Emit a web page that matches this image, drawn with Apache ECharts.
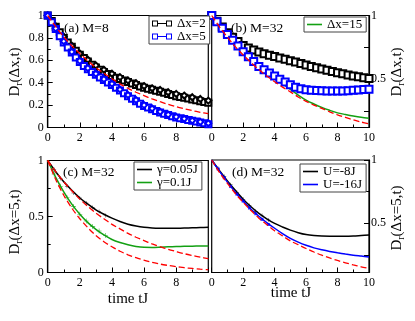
<!DOCTYPE html>
<html><head><meta charset="utf-8">
<script src="https://cdn.jsdelivr.net/npm/echarts@6/dist/echarts.min.js"></script>
<style>html,body{margin:0;padding:0;background:#fff}#c{width:415px;height:321px}</style>
</head><body><div id="c"></div>
<script>
// ---- time grids ----
const tQ = [0,0.25,0.5,0.75,1,1.25,1.5,1.75,2,2.25,2.5,2.75,3,3.25,3.5,3.75,4,4.25,4.5,4.75,5,5.25,5.5,5.75,6,6.25,6.5,6.75,7,7.25,7.5,7.75,8,8.25,8.5,8.75,9,9.25,9.5,9.75,10];
const tH = [0,0.5,1,1.5,2,2.5,3,3.5,4,4.5,5,5.5,6,6.5,7,7.5,8,8.5,9,9.5,10];
const tT = [0,0.33,0.67,1,1.33,1.67,2,2.33,2.67,3,3.33,3.67,4,4.33,4.67,5,5.33,5.67,6,6.33,6.67,7,7.33,7.67,8,8.33,8.67,9,9.33,9.67,10];
// ---- x tick labels ----
const xTicks = [0,2,4,6,8,10];
// ---- panel (a) M=8 ----
const aBlackSq = [1.0,0.95,0.90,0.85,0.80,0.76,0.72,0.685,0.65,0.62,0.59,0.56,0.535,0.515,0.495,0.477,0.46,0.445,0.432,0.419,0.406,0.393,0.38,0.367,0.355,0.346,0.337,0.328,0.32,0.31,0.30,0.29,0.28,0.272,0.265,0.258,0.25,0.243,0.235,0.228,0.22];
const aBlueSq = [1.0,0.94,0.88,0.815,0.76,0.715,0.67,0.625,0.585,0.55,0.52,0.495,0.47,0.447,0.424,0.402,0.38,0.355,0.33,0.305,0.28,0.257,0.235,0.213,0.192,0.178,0.164,0.148,0.133,0.122,0.111,0.10,0.09,0.082,0.075,0.068,0.06,0.053,0.045,0.038,0.03];
const aBlackAlt = [1,0.905,0.81,0.73,0.66,0.605,0.555,0.515,0.48,0.45,0.42,0.395,0.37,0.35,0.335,0.315,0.30,0.285,0.27,0.255,0.24];
const aBlueAlt = [1,0.885,0.77,0.675,0.595,0.53,0.48,0.432,0.39,0.34,0.29,0.245,0.20,0.17,0.14,0.115,0.095,0.078,0.063,0.05,0.038];
const aRed = [1,0.90,0.81,0.73,0.66,0.595,0.535,0.485,0.435,0.39,0.35,0.315,0.285,0.255,0.23,0.207,0.186,0.168,0.151,0.136,0.123];
// ---- panel (b) M=32 ----
const bBlack = [1.0,0.955,0.91,0.865,0.83,0.795,0.765,0.745,0.728,0.713,0.70,0.688,0.677,0.667,0.656,0.645,0.634,0.622,0.611,0.60,0.59,0.58,0.57,0.56,0.55,0.542,0.533,0.525,0.518,0.511,0.505];
const bBlue = [1.0,0.95,0.90,0.85,0.805,0.76,0.715,0.675,0.638,0.60,0.573,0.548,0.525,0.50,0.477,0.455,0.437,0.425,0.417,0.412,0.41,0.408,0.407,0.406,0.406,0.407,0.409,0.412,0.415,0.418,0.42];
const bGreen = [1,0.925,0.855,0.79,0.73,0.67,0.61,0.558,0.513,0.465,0.42,0.375,0.335,0.305,0.278,0.255,0.235,0.222,0.21,0.20,0.193];
const bRed = [1,0.91,0.83,0.755,0.69,0.63,0.575,0.525,0.48,0.437,0.40,0.36,0.325,0.296,0.27,0.243,0.22,0.20,0.18,0.163,0.148];
// ---- panel (c) M=32, gamma ----
const cBlack = [1,0.90,0.81,0.735,0.665,0.61,0.56,0.52,0.485,0.455,0.431,0.415,0.404,0.398,0.395,0.394,0.395,0.397,0.399,0.401,0.403];
const cGreen = [1,0.85,0.72,0.61,0.52,0.445,0.385,0.335,0.295,0.268,0.248,0.233,0.225,0.224,0.226,0.229,0.232,0.234,0.235,0.236,0.237];
const cRed1 = [1,0.90,0.81,0.73,0.655,0.59,0.53,0.48,0.43,0.39,0.35,0.315,0.285,0.255,0.23,0.207,0.187,0.168,0.152,0.137,0.123];
const cRed2 = [1,0.83,0.69,0.575,0.48,0.40,0.33,0.275,0.23,0.19,0.158,0.132,0.11,0.09,0.075,0.063,0.052,0.043,0.036,0.03,0.025];
// early-time check points in (c) and (d)
const tEarly = [0.4,0.8,1.2,1.6,2.0,2.4,2.8,3.2,3.6];
const cGreenPts = [0.88,0.77,0.67,0.59,0.52,0.46,0.41,0.37,0.33];
const cBlackPts = [0.92,0.84,0.77,0.71,0.665,0.62,0.58,0.545,0.51];
const dBlackPts = [0.935,0.87,0.805,0.745,0.69,0.64,0.595,0.56,0.525];
const dBluePts = [0.93,0.86,0.79,0.73,0.675,0.62,0.575,0.53,0.49];
// ---- panel (d) M=32, U ----
const dBlack = [1,0.915,0.835,0.76,0.69,0.63,0.578,0.535,0.498,0.47,0.445,0.425,0.41,0.402,0.398,0.397,0.397,0.396,0.398,0.402,0.406];
const dBlue = [1,0.91,0.825,0.745,0.675,0.61,0.555,0.505,0.46,0.418,0.38,0.35,0.325,0.305,0.29,0.277,0.266,0.256,0.247,0.24,0.233];
const dRed = [1,0.9,0.815,0.735,0.665,0.6,0.54,0.49,0.44,0.40,0.36,0.33,0.30,0.272,0.247,0.225,0.205,0.187,0.17,0.155,0.142];
// ---- y tick labels ----
const yTicksRight = [0.5,1];
const yMinorRight = [0.25,0.5,0.75,1];

const F = 'Liberation Serif';
const BLUE = '#0000ff', GREEN = '#13a013', RED = '#ff0000';
const pair = (t, v) => t.map((x, i) => [x, v[i]]);
const PLUS = 'path://M0,4.4H10V5.6H0Z M4.4,0H5.6V10H4.4Z';
const SQSQ = 'path://M0,0H6V6H0Z M1,1V5H5V1Z M6,2.4H14V3.6H6Z M14,0H20V6H14Z M15,1V5H19V1Z';

function xAx(gi, hide10) {
  return {type:'value', gridIndex:gi, min:xTicks[0], max:xTicks[xTicks.length-1], interval:2,
    axisLine:{show:true,onZero:false,lineStyle:{color:'#000',width:1.2}},
    axisTick:{inside:true,length:5,lineStyle:{color:'#000',width:1}},
    minorTick:{show:true,splitNumber:2,length:3,lineStyle:{color:'#000',width:1}},
    splitLine:{show:false},
    axisLabel:{margin:4,color:'#000',fontFamily:F,fontSize:12,
      formatter: v => (hide10 && v === 10) ? '' : String(v)}};
}
function yLeft(gi, interval) {
  return {type:'value', gridIndex:gi, min:0, max:1, interval:interval,
    axisLine:{show:true,onZero:false,lineStyle:{color:'#000',width:1.2}},
    axisTick:{inside:true,length:5,lineStyle:{color:'#000',width:1}},
    minorTick:{show:true,splitNumber:2,length:3,lineStyle:{color:'#000',width:1}},
    splitLine:{show:false},
    axisLabel:{margin:4,color:'#000',fontFamily:F,fontSize:12}};
}
function yRight(gi, min) {
  return {type:'value', gridIndex:gi, position:'right', min:min, max:1,
    axisLine:{show:true,onZero:false,lineStyle:{color:'#000',width:1.2}},
    axisTick:{inside:true,length:5,customValues:yMinorRight,lineStyle:{color:'#000',width:1}},
    splitLine:{show:false},
    axisLabel:{margin:2,color:'#000',fontFamily:F,fontSize:12,customValues:yTicksRight}};
}
function ln(name, xi, data, color) {
  return {type:'line', name:name, xAxisIndex:xi, yAxisIndex:xi, data:data,
    showSymbol:false, symbol:'none', smooth:0.3,
    lineStyle:{color:color,width:1.5}, itemStyle:{color:color}, animation:false, z:3};
}
function mk(name, xi, data, color, sym, size, lw) {
  return {type:'line', name:name, xAxisIndex:xi, yAxisIndex:xi, data:data,
    symbol:sym, symbolSize:size, showSymbol:true,
    lineStyle:{color:color,width:lw}, itemStyle:{color:color,borderColor:color,borderWidth:1.1},
    animation:false, z:3};
}
function pts(xi, data, color, sym, size) {
  return {type:'scatter', xAxisIndex:xi, yAxisIndex:xi, data:data, symbol:sym, symbolSize:size,
    itemStyle:{color:color}, animation:false, z:4};
}
function dash(xi, data) {
  return {type:'line', xAxisIndex:xi, yAxisIndex:xi, data:data, symbol:'none', smooth:0.3,
    lineStyle:{color:RED,width:1.3,type:[6,3]}, animation:false, z:5};
}
const legBase = {orient:'vertical', itemWidth:15, itemHeight:1.6, itemGap:0, padding:[1,4,1,3],
  borderColor:'#444', borderWidth:1, backgroundColor:'#fff', selectedMode:false,
  textStyle:{fontFamily:F,fontSize:13,color:'#000',lineHeight:12}};
const li = (name, color) => ({name:name, icon:'rect', itemStyle:{color:color,borderWidth:0}});
const lq = (name, color) => ({name:name, icon:SQSQ, itemStyle:{color:color,borderWidth:0}});

const richD = {
  a:{fontSize:15,fontFamily:F,lineHeight:16,verticalAlign:'top',color:'#000'},
  s:{fontSize:10,fontFamily:F,lineHeight:10,padding:[8,0,0,0],verticalAlign:'bottom',color:'#000'}
};
function dTitle(x, y, rest) {
  return {type:'text', x:x, y:y, rotation:Math.PI/2, z:10,
    style:{text:'{a|D}{s|r}{a|' + rest + '}', rich:richD, align:'center', verticalAlign:'middle'}};
}
function txt(x, y, s, size, align) {
  return {type:'text', x:x, y:y, z:10,
    style:{text:s, font: size + 'px "' + F + '"', fill:'#000', align:align || 'left', verticalAlign:'middle'}};
}

const option = {
  backgroundColor:'#fff',
  animation:false,
  grid:[
    {left:47.7, top:15.5, width:160.6, height:112, show:true, borderColor:'#000', borderWidth:1.2},
    {left:211.7, top:15.5, width:157.3, height:112, show:true, borderColor:'#000', borderWidth:1.2},
    {left:47.7, top:160.5, width:160.6, height:112, show:true, borderColor:'#000', borderWidth:1.2},
    {left:211.7, top:160, width:157.3, height:112.5, show:true, borderColor:'#000', borderWidth:1.2}
  ],
  xAxis:[xAx(0,true), xAx(1,false), xAx(2,true), xAx(3,false)],
  yAxis:[yLeft(0,0.2), yRight(1,0.12), yLeft(2,0.5), yRight(3,0.11)],
  legend:[
    Object.assign({}, legBase, {data:[lq('Δx=2','#000'), lq('Δx=5',BLUE)], left:149, top:16, itemWidth:20, itemHeight:6}),
    Object.assign({}, legBase, {data:[li('Δx=15',GREEN)], left:304, top:17}),
    Object.assign({}, legBase, {data:[li('γ=0.05J','#000'), li('γ=0.1J',GREEN)], left:134, top:162}),
    Object.assign({}, legBase, {data:[li('U=-8J','#000'), li('U=-16J',BLUE)], left:300, top:164})
  ],
  series:[
    mk('Δx=2', 0, pair(tQ, aBlackSq), '#000', 'emptyRect', 6, 1.3),
    mk('a-black-alt', 0, pair(tH, aBlackAlt), '#000', 'emptyDiamond', 6, 0.8),
    mk('Δx=5', 0, pair(tQ, aBlueSq), BLUE, 'emptyRect', 6, 1.3),
    mk('a-blue-alt', 0, pair(tH, aBlueAlt), BLUE, 'emptyDiamond', 6, 0.8),
    dash(0, pair(tH, aRed)),

    mk('b-black', 1, pair(tT, bBlack), '#000', 'emptyRect', 7, 1.2),
    mk('b-blue', 1, pair(tT, bBlue), BLUE, 'emptyRect', 7, 1.2),
    ln('Δx=15', 1, pair(tH, bGreen), GREEN),
    dash(1, pair(tH, bRed)),

    ln('γ=0.05J', 2, pair(tH, cBlack), '#000'),
    ln('γ=0.1J', 2, pair(tH, cGreen), GREEN),
    pts(2, pair(tEarly, cGreenPts), GREEN, PLUS, 5),
    pts(2, pair(tEarly, cBlackPts), '#000', PLUS, 4),
    dash(2, pair(tH, cRed1)),
    dash(2, pair(tH, cRed2)),

    ln('U=-8J', 3, pair(tH, dBlack), '#000'),
    ln('U=-16J', 3, pair(tH, dBlue), BLUE),
    pts(3, pair(tEarly, dBlackPts), '#000', PLUS, 4),
    pts(3, pair(tEarly, dBluePts), BLUE, 'rect', 3),
    dash(3, pair(tH, dRed))
  ],
  graphic:[
    dTitle(16, 72, '(Δx,t)'),
    dTitle(398, 72, '(Δx,t)'),
    dTitle(16, 222, '(Δx=5,t)'),
    dTitle(398, 218, '(Δx=5,t)'),
    txt(64, 28, '(a) M=8', 13.5),
    txt(231, 28, '(b) M=32', 13.5),
    txt(63, 172, '(c) M=32', 13.5),
    txt(232, 172, '(d) M=32', 13.5),
    txt(128, 299.5, 'time tJ', 15, 'center'),
    txt(291, 293, 'time tJ', 15, 'center')
  ]
};
const chart = echarts.init(document.getElementById('c'), null, {renderer:'canvas'});
chart.setOption(option);
</script>
</body></html>
